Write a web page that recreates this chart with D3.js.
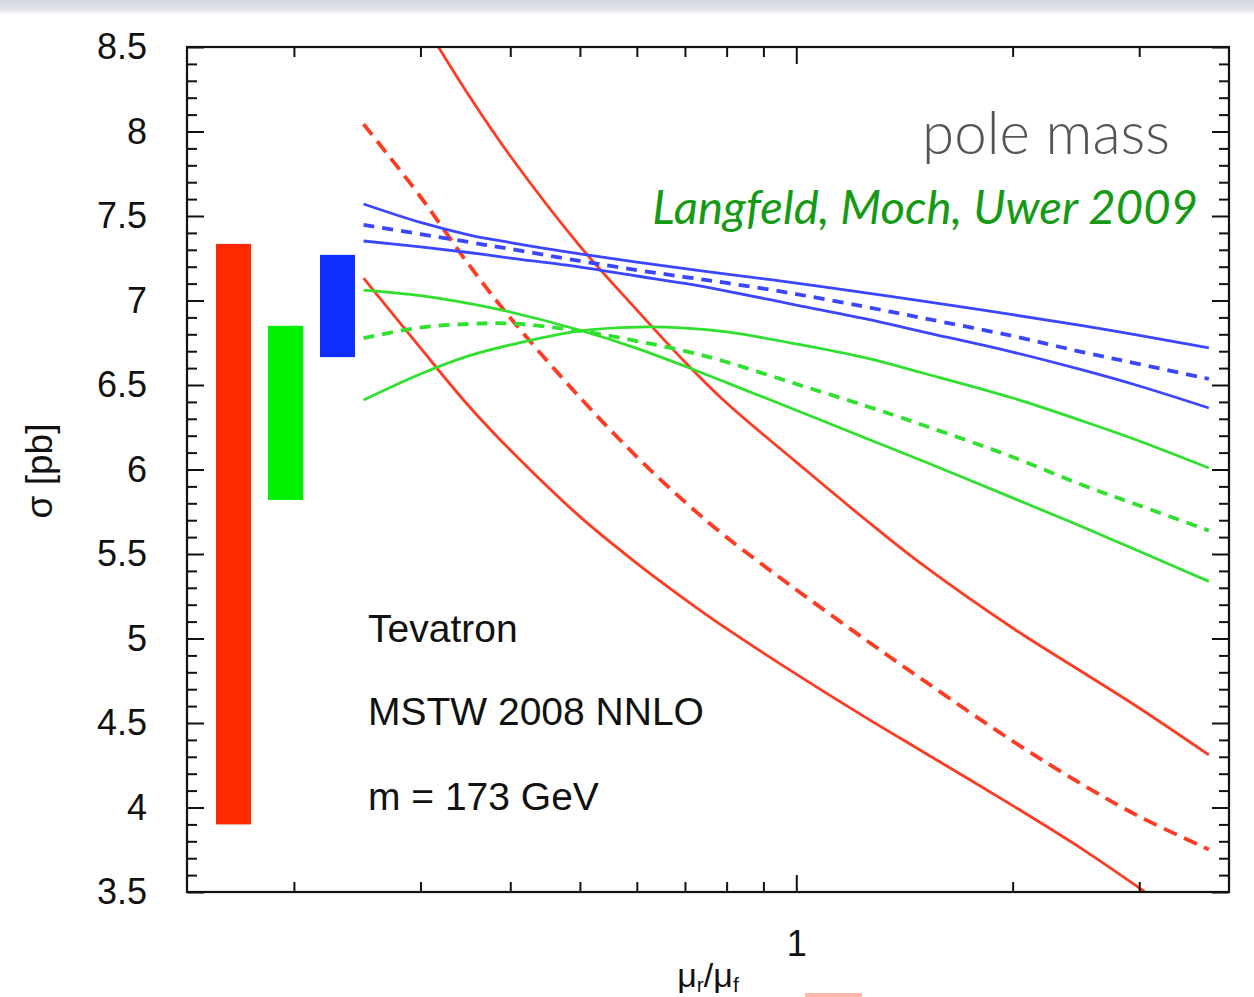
<!DOCTYPE html>
<html><head><meta charset="utf-8">
<script src="https://cdn.jsdelivr.net/npm/d3@7"></script>
<style>
html,body{margin:0;padding:0;background:#fff;}
svg{display:block;}
</style></head>
<body>
<svg id="chart" width="1254" height="997"></svg>
<script>
// ---- data -------------------------------------------------------------
// scale ratio mu_r/mu_f at which the curves are sampled
const scaleRatio = [0.25, 0.3, 0.35, 0.4, 0.5, 0.6, 0.7, 0.8, 1.0, 1.25, 1.5, 2, 2.5, 3, 3.75];

// LO cross sections [pb] (red)
const loUpper   = [9.216, 8.672, 8.216, 7.855, 7.322, 6.944, 6.636, 6.393, 6.044, 5.701, 5.435, 5.062, 4.802, 4.589, 4.311];
const loCentral = [8.044, 7.614, 7.214, 6.898, 6.426, 6.075, 5.808, 5.599, 5.289, 4.991, 4.755, 4.393, 4.136, 3.947, 3.752];
const loLower   = [7.133, 6.719, 6.377, 6.115, 5.721, 5.445, 5.232, 5.058, 4.789, 4.532, 4.330, 4.011, 3.754, 3.524, 3.224];

// NLO cross sections [pb] (green)
const nloCurveA  = [7.062, 7.029, 6.983, 6.932, 6.824, 6.717, 6.611, 6.514, 6.351, 6.185, 6.050, 5.832, 5.661, 5.516, 5.338];
const nloCentral = [6.778, 6.840, 6.861, 6.864, 6.820, 6.760, 6.701, 6.636, 6.506, 6.376, 6.263, 6.074, 5.908, 5.787, 5.639];
const nloCurveB  = [6.411, 6.565, 6.672, 6.737, 6.820, 6.843, 6.837, 6.814, 6.743, 6.660, 6.571, 6.423, 6.287, 6.169, 6.009];

// NNLO cross sections [pb] (blue)
const nnloUpper   = [7.571, 7.462, 7.389, 7.343, 7.276, 7.227, 7.189, 7.156, 7.103, 7.045, 6.996, 6.916, 6.851, 6.794, 6.719];
const nnloCentral = [7.447, 7.393, 7.346, 7.305, 7.234, 7.180, 7.139, 7.104, 7.038, 6.962, 6.896, 6.790, 6.695, 6.624, 6.536];
const nnloLower   = [7.352, 7.317, 7.284, 7.251, 7.198, 7.145, 7.101, 7.056, 6.973, 6.891, 6.815, 6.695, 6.589, 6.494, 6.364];

// scale-uncertainty bands per order [pb]
const bandOrders = ["LO", "NLO", "NNLO"];
const bandLow    = [3.90, 5.82, 6.665];
const bandHigh   = [7.335, 6.85, 7.27];

// axes
const yTickValues  = [3.5, 4, 4.5, 5, 5.5, 6, 6.5, 7, 7.5, 8, 8.5];
const xMajorTicks  = [1];
const xMinorTicks  = [0.2, 0.3, 0.4, 0.5, 0.6, 0.7, 0.8, 0.9, 2, 3];
const xLabel = ["\u03bc", "r", "/\u03bc", "f"];
const yLabel = "\u03c3 [pb]";

// annotations
const infoLines = ["Tevatron", "MSTW 2008 NNLO", "m = 173 GeV"];
const titleText = "pole mass";
const creditText = "Langfeld, Moch, Uwer 2009";

// ---- layout -----------------------------------------------------------
const svg = d3.select("#chart");
const W = 1254, H = 997;
const plot = {left: 187, right: 1229, top: 47, bottom: 892};
const FONT = "'Liberation Sans', Arial, Helvetica, sans-serif";

const x = d3.scaleLog().domain([0.142, 4]).range([plot.left, plot.right]);
const y = d3.scaleLinear().domain([3.5, 8.5]).range([plot.bottom, plot.top]);

const defs = svg.append("defs");

// soft grey strip along the top edge
const grad = defs.append("linearGradient").attr("id", "topStrip")
  .attr("x1", 0).attr("y1", 0).attr("x2", 0).attr("y2", 1);
grad.append("stop").attr("offset", "0%").attr("stop-color", "#d3d7de");
grad.append("stop").attr("offset", "65%").attr("stop-color", "#e3e6eb");
grad.append("stop").attr("offset", "100%").attr("stop-color", "#ffffff");
svg.append("rect").attr("x", 0).attr("y", 0).attr("width", W).attr("height", 15)
  .attr("fill", "url(#topStrip)");

defs.append("clipPath").attr("id", "plotClip")
  .append("rect")
  .attr("x", plot.left).attr("y", plot.top)
  .attr("width", plot.right - plot.left).attr("height", plot.bottom - plot.top);

// ---- uncertainty bars ------------------------------------------------
const band = d3.scaleBand().domain(bandOrders).range([216, 355]).paddingInner(17 / 52);
const bandColor = {LO: "#ff2a00", NLO: "#00f000", NNLO: "#0f2eff"};
svg.append("g").selectAll("rect")
  .data(bandOrders.map((o, i) => ({o, lo: bandLow[i], hi: bandHigh[i]})))
  .join("rect")
  .attr("x", d => band(d.o))
  .attr("width", band.bandwidth())
  .attr("y", d => y(d.hi))
  .attr("height", d => y(d.lo) - y(d.hi))
  .attr("fill", d => bandColor[d.o]);

// ---- curves ----------------------------------------------------------
const line = d3.line()
  .x(d => x(d[0])).y(d => y(d[1]))
  .curve(d3.curveCatmullRom.alpha(0.5));

const curves = [
  {vals: loUpper,     color: "#ff3b22", dash: null},
  {vals: loLower,     color: "#ff3b22", dash: null},
  {vals: loCentral,   color: "#ff3b22", dash: "14,8"},
  {vals: nloCurveA,   color: "#2fe02f", dash: null},
  {vals: nloCurveB,   color: "#2fe02f", dash: null},
  {vals: nloCentral,  color: "#2fe02f", dash: "11,8"},
  {vals: nnloUpper,   color: "#3a46ff", dash: null},
  {vals: nnloLower,   color: "#3a46ff", dash: null},
  {vals: nnloCentral, color: "#3a46ff", dash: "11,8"}
];

const curveG = svg.append("g").attr("clip-path", "url(#plotClip)");
curveG.selectAll("path")
  .data(curves)
  .join("path")
  .attr("d", c => line(scaleRatio.map((r, i) => [r, c.vals[i]])))
  .attr("fill", "none")
  .attr("stroke", c => c.color)
  .attr("stroke-width", c => c.dash ? 3.8 : 2.8)
  .attr("stroke-dasharray", c => c.dash);

// ---- axes -----------------------------------------------------------
const TICK_MAJOR = 17, TICK_MINOR = 10;
const yMinor = d3.range(36, 85).map(v => v / 10).filter(v => !yTickValues.some(t => Math.abs(t - v) < 1e-9));

function styleAxis(g) {
  g.select(".domain").remove();
  g.selectAll(".tick line").attr("stroke", "#111").attr("stroke-width", 2);
  g.selectAll(".tick text").attr("fill", "#111").attr("font-family", FONT).attr("font-size", 36);
}

// bottom
svg.append("g").attr("transform", `translate(0,${plot.bottom})`)
  .call(d3.axisBottom(x).tickValues(xMajorTicks).tickSizeInner(-TICK_MAJOR).tickSizeOuter(0)
    .tickPadding(38).tickFormat(d3.format("d")))
  .call(styleAxis);
svg.append("g").attr("transform", `translate(0,${plot.bottom})`)
  .call(d3.axisBottom(x).tickValues(xMinorTicks).tickSizeInner(-TICK_MINOR).tickSizeOuter(0).tickFormat(""))
  .call(styleAxis);
// top
svg.append("g").attr("transform", `translate(0,${plot.top})`)
  .call(d3.axisTop(x).tickValues(xMajorTicks).tickSizeInner(-TICK_MAJOR).tickSizeOuter(0).tickFormat(""))
  .call(styleAxis);
svg.append("g").attr("transform", `translate(0,${plot.top})`)
  .call(d3.axisTop(x).tickValues(xMinorTicks).tickSizeInner(-TICK_MINOR).tickSizeOuter(0).tickFormat(""))
  .call(styleAxis);
// left
svg.append("g").attr("transform", `translate(${plot.left},0)`)
  .call(d3.axisLeft(y).tickValues(yTickValues).tickSizeInner(-TICK_MAJOR).tickSizeOuter(0)
    .tickPadding(40).tickFormat(d3.format("")))
  .call(styleAxis);
svg.append("g").attr("transform", `translate(${plot.left},0)`)
  .call(d3.axisLeft(y).tickValues(yMinor).tickSizeInner(-TICK_MINOR).tickSizeOuter(0).tickFormat(""))
  .call(styleAxis);
// right
svg.append("g").attr("transform", `translate(${plot.right},0)`)
  .call(d3.axisRight(y).tickValues(yTickValues).tickSizeInner(-TICK_MAJOR).tickSizeOuter(0).tickFormat(""))
  .call(styleAxis);
svg.append("g").attr("transform", `translate(${plot.right},0)`)
  .call(d3.axisRight(y).tickValues(yMinor).tickSizeInner(-TICK_MINOR).tickSizeOuter(0).tickFormat(""))
  .call(styleAxis);

// frame
svg.append("rect")
  .attr("x", plot.left).attr("y", plot.top)
  .attr("width", plot.right - plot.left).attr("height", plot.bottom - plot.top)
  .attr("fill", "none").attr("stroke", "#111").attr("stroke-width", 2.2);

// axis titles
svg.append("text")
  .attr("transform", "translate(52,471) rotate(-90)")
  .attr("text-anchor", "middle")
  .attr("font-family", FONT).attr("font-size", 37).attr("fill", "#111")
  .text(yLabel);

const xl = svg.append("text")
  .attr("x", 708).attr("y", 987)
  .attr("text-anchor", "middle")
  .attr("font-family", FONT).attr("font-size", 34).attr("fill", "#111");
xl.append("tspan").text(xLabel[0]);
xl.append("tspan").attr("font-size", 21).attr("dy", 5).text(xLabel[1]);
xl.append("tspan").attr("dy", -5).text(xLabel[2]);
xl.append("tspan").attr("font-size", 21).attr("dy", 5).text(xLabel[3]);

// ---- annotations ----------------------------------------------------
const infoBase = [642, 725, 810];
svg.append("g").selectAll("text")
  .data(infoLines)
  .join("text")
  .attr("x", 368).attr("y", (d, i) => infoBase[i])
  .attr("font-family", FONT).attr("font-size", 39).attr("fill", "#111")
  .text(d => d);

function fitWidth(sel, width) {
  const size = +sel.attr("font-size");
  const w = sel.node().getComputedTextLength();
  if (w > 0) sel.attr("font-size", size * width / w);
}

const title = svg.append("text")
  .attr("x", 1170).attr("y", 154)
  .attr("text-anchor", "end")
  .attr("font-family", "Lato, 'Open Sans', sans-serif").attr("font-weight", 300)
  .attr("font-size", 50).attr("fill", "#555")
  .text(titleText);
fitWidth(title, 248);

const credit = svg.append("text")
  .attr("x", 1198).attr("y", 224)
  .attr("text-anchor", "end")
  .attr("font-family", "Lato, 'Open Sans', sans-serif").attr("font-style", "italic").attr("font-weight", 400)
  .attr("font-size", 46).attr("fill", "#159a15")
  .text(creditText);
fitWidth(credit, 546);

// small red marker at the lower edge
svg.append("rect").attr("x", 805).attr("y", 993).attr("width", 57).attr("height", 6)
  .attr("fill", "#ffb9ac");
</script>
</body></html>
